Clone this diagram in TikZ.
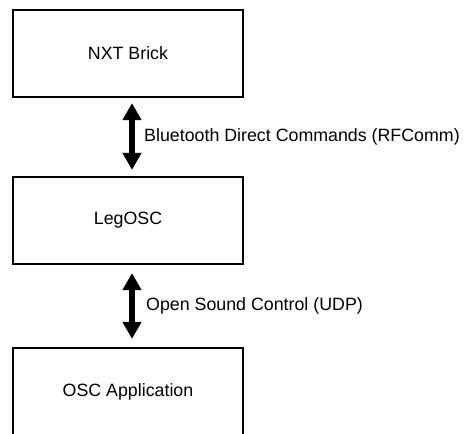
\documentclass[tikz,border=0pt]{standalone}
\usepackage{fontspec}
\setmainfont{Liberation Sans}
\usetikzlibrary{arrows.meta}

\begin{document}
\begin{tikzpicture}[x=1pt,y=-1pt,
  font=\fontsize{17.8}{20}\selectfont,
  blok/.style={draw,line width=2.2pt,minimum width=230pt,minimum height=87pt,inner sep=0pt},
  fat/.style={line width=6pt,{Triangle[width=18pt,length=17pt]}-{Triangle[width=18pt,length=17pt]}},
  lbl/.style={anchor=base west,inner sep=0pt}]
\useasboundingbox (0,0) rectangle (469,434);
\clip (0,0) rectangle (469,434);
%
\node[blok] (nxt) at (128,53.5) {NXT Brick};
\node[blok] (lego) at (128,220.5) {LegOSC};
\node[blok] (osc) at (128,391.5) {OSC Application};
%
\draw[fat] ([xshift=4pt,yshift=-5pt]nxt.south) -- ([xshift=4pt,yshift=6pt]lego.north);
\draw[fat] ([xshift=4pt,yshift=-8pt]lego.south) -- ([xshift=4pt,yshift=8pt]osc.north);
%
\node[lbl] (bt) at (144,141) {Bluetooth Direct Commands (RFComm)};
\node[lbl] (udp) at (146,310) {Open Sound Control (UDP)};
\end{tikzpicture}
\end{document}
